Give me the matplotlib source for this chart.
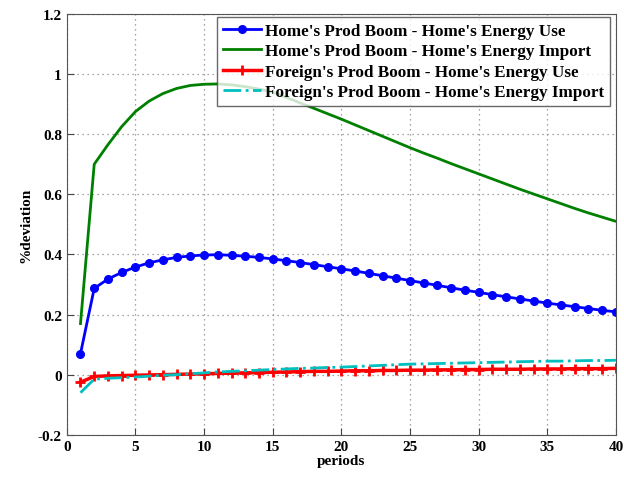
import matplotlib
matplotlib.use("Agg")
import matplotlib.pyplot as plt
import numpy as np

periods = list(range(1, 41))
home_use = [0.07, 0.287, 0.318, 0.34, 0.358, 0.372, 0.382, 0.39, 0.395, 0.398,
            0.399, 0.397, 0.394, 0.39, 0.385, 0.379, 0.373, 0.366, 0.359, 0.352,
            0.345, 0.337, 0.329, 0.321, 0.313, 0.305, 0.297, 0.289, 0.281, 0.274,
            0.266, 0.259, 0.252, 0.245, 0.238, 0.232, 0.226, 0.22, 0.214, 0.209]
home_import = [0.17, 0.70, 0.765, 0.825, 0.875, 0.91, 0.935, 0.952, 0.962, 0.966,
               0.967, 0.964, 0.958, 0.95, 0.94, 0.922, 0.904, 0.886, 0.868, 0.85,
               0.831, 0.812, 0.793, 0.774, 0.755, 0.737, 0.72, 0.702, 0.685, 0.668,
               0.651, 0.634, 0.617, 0.601, 0.585, 0.569, 0.553, 0.538, 0.524, 0.51]
foreign_use = [-0.025, -0.006, -0.004, -0.003, -0.002, -0.001, 0.0, 0.001, 0.002, 0.003,
               0.004, 0.005, 0.006, 0.007, 0.008, 0.009, 0.01, 0.011, 0.011, 0.012,
               0.013, 0.013, 0.014, 0.014, 0.015, 0.015, 0.016, 0.016, 0.017, 0.017,
               0.018, 0.018, 0.018, 0.019, 0.019, 0.019, 0.02, 0.02, 0.02, 0.021]
foreign_import = [-0.06, -0.015, -0.012, -0.01, -0.008, -0.005, -0.002, 0.0, 0.003, 0.006,
                  0.009, 0.011, 0.013, 0.015, 0.017, 0.019, 0.021, 0.022, 0.024, 0.025,
                  0.027, 0.029, 0.031, 0.033, 0.035, 0.036, 0.037, 0.038, 0.039, 0.04,
                  0.041, 0.042, 0.043, 0.044, 0.045, 0.045, 0.046, 0.047, 0.047, 0.048]
labels = ["Home's Prod Boom - Home's Energy Use",
          "Home's Prod Boom - Home's Energy Import",
          "Foreign's Prod Boom - Home's Energy Use",
          "Foreign's Prod Boom - Home's Energy Import"]

plt.rcParams['font.family'] = ['Liberation Serif', 'DejaVu Serif']
plt.rcParams['font.weight'] = 'bold'

fig = plt.figure(figsize=(6.24, 4.81), dpi=100)
ax = fig.add_axes([0.107, 0.094, 0.88, 0.875])

ax.plot(periods, home_use, color='#0000ff', lw=2, marker='o', ms=5.5, label=labels[0])
ax.plot(periods, home_import, color='#008000', lw=2, label=labels[1])
ax.plot(periods, foreign_use, color='#ff0000', lw=2.5, marker='+', ms=7, mew=2, label=labels[2])
ax.plot(periods, foreign_import, color='#00bfbf', lw=2, ls='-.', label=labels[3])

ax.set_xlim(0, 40)
ax.set_ylim(-0.2, 1.2)
ax.set_xticks(range(0, 41, 5))
ax.set_yticks(np.arange(-0.2, 1.21, 0.2))
ax.set_yticklabels(['-0.2', '0', '0.2', '0.4', '0.6', '0.8', '1', '1.2'])
ax.grid(True, ls=(0, (1, 3)), color='#888888', lw=0.9)
ax.tick_params(direction='in', labelsize=11, length=5, color='#444444')
for lab in ax.get_xticklabels() + ax.get_yticklabels():
    lab.set_fontweight('bold')
for s in ax.spines.values():
    s.set_color('#555555')
ax.set_xlabel('periods', fontsize=11, fontweight='bold', labelpad=1)
ax.set_ylabel('%deviation', fontsize=11, fontweight='bold')

leg = ax.legend(loc='upper right', bbox_to_anchor=(610 / 624, 1 - 18 / 481),
                bbox_transform=fig.transFigure, fontsize=12.3, frameon=True,
                fancybox=False, edgecolor='#444444', borderpad=0.35,
                labelspacing=0.26, handlelength=2.25, handletextpad=0.2,
                borderaxespad=0)
leg.get_frame().set_linewidth(1.0)
for t in leg.get_texts():
    t.set_fontweight('bold')

fig.savefig('out.png', dpi=100)
